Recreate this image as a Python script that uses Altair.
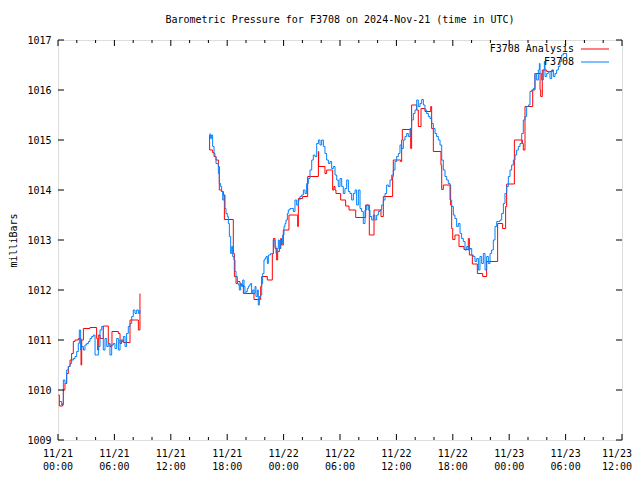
import altair as alt
import pandas as pd

TITLE = "Barometric Pressure for F3708 on 2024-Nov-21 (time in UTC)"
Y_TITLE = "milliBars"
SERIES = ["F3708 Analysis", "F3708"]
COLORS = ["#ff0000", "#0080ff"]
X_MAJOR = list(range(0, 61, 6))          # hours since 2024-11-21 00:00 UTC
X_LABELS = ["11/21\n00:00", "11/21\n06:00", "11/21\n12:00", "11/21\n18:00", "11/22\n00:00",
            "11/22\n06:00", "11/22\n12:00", "11/22\n18:00", "11/23\n00:00", "11/23\n06:00",
            "11/23\n12:00"]
X_MINOR = [h for h in range(0, 61, 2) if h % 6]
Y_MAJOR = list(range(1009, 1018))

# F3708 Analysis (red), segment before the gap
red_seg1 = [(0.04, 1009.9), (0.14, 1009.68), (0.5, 1009.73), (0.57, 1010.0), (0.74, 1010.13),
            (0.92, 1010.33), (1.10, 1010.47), (1.28, 1010.6), (1.45, 1010.73), (1.63, 1010.97),
            (1.81, 1011.0), (2.16, 1011.03), (2.45, 1010.5), (2.52, 1011.0), (2.70, 1011.23),
            (3.40, 1011.25), (4.11, 1011.03), (4.22, 1010.8), (4.33, 1011.1), (4.47, 1011.03),
            (4.82, 1011.28), (5.35, 1010.93), (5.53, 1010.87), (5.74, 1011.17), (6.42, 1011.13),
            (6.60, 1010.93), (6.77, 1011.0), (6.95, 1010.95), (7.66, 1011.4), (8.55, 1011.2),
            (8.72, 1011.93)]
# F3708 Analysis (red), segment after the gap
red_seg2 = [(16.10, 1015.1), (16.13, 1014.8), (16.45, 1014.75), (16.60, 1014.67), (16.81, 1014.6),
            (17.06, 1014.47), (17.16, 1014.0), (17.41, 1013.97), (17.59, 1013.9), (17.70, 1013.41),
            (18.65, 1012.73), (18.76, 1012.27), (18.94, 1012.13), (19.08, 1012.17), (19.36, 1012.1),
            (19.72, 1011.93), (20.85, 1011.81), (21.56, 1012.07), (21.67, 1012.27), (22.27, 1012.2),
            (22.80, 1012.73), (22.91, 1013.03), (23.09, 1012.83), (23.26, 1012.6), (23.37, 1012.77),
            (23.55, 1012.83), (23.69, 1013.03), (23.79, 1012.9), (23.97, 1013.2), (24.57, 1013.5),
            (25.50, 1013.27), (25.57, 1013.83), (26.03, 1013.87), (26.56, 1014.27), (27.70, 1014.77),
            (27.73, 1014.47), (28.40, 1014.33), (28.58, 1014.4), (29.22, 1014.0), (29.36, 1014.07),
            (29.47, 1014.0), (29.57, 1013.93), (30.07, 1013.8), (30.60, 1013.68), (30.96, 1013.6),
            (31.67, 1013.45), (32.73, 1013.7), (33.12, 1013.1), (33.62, 1013.6), (34.36, 1013.47),
            (34.61, 1013.87), (35.60, 1014.27), (35.67, 1014.6), (36.45, 1014.57), (36.56, 1015.0),
            (36.63, 1015.21), (37.52, 1014.83), (37.62, 1015.7), (38.16, 1015.6), (38.33, 1015.27),
            (38.62, 1015.63), (39.04, 1015.57), (39.65, 1015.67), (39.75, 1015.23), (39.93, 1014.77),
            (40.74, 1014.5), (40.82, 1014.01), (40.99, 1014.1), (41.77, 1013.7), (41.88, 1013.23),
            (41.99, 1013.01), (42.23, 1013.1), (42.66, 1012.87), (43.19, 1012.81), (43.65, 1013.03),
            (43.76, 1012.7), (44.08, 1012.52), (44.61, 1012.33), (45.18, 1012.27), (45.60, 1012.57),
            (46.77, 1013.33), (47.30, 1013.23), (47.62, 1013.67), (47.73, 1014.12), (48.55, 1015.0),
            (49.40, 1014.93), (49.50, 1014.8), (49.68, 1015.67), (50.50, 1016.0), (50.74, 1016.33),
            (51.28, 1016.0), (51.35, 1015.87), (51.52, 1016.4), (51.99, 1016.37), (52.62, 1016.4),
            (52.70, 1016.4)]

# F3708 observations (blue), segment before the gap
blue_seg1 = [(0.14, 1009.77), (0.39, 1009.7), (0.57, 1010.2), (0.74, 1010.13), (0.92, 1010.4),
             (1.10, 1010.47), (1.28, 1010.53), (1.45, 1010.6), (1.63, 1010.63), (1.81, 1010.67),
             (1.99, 1010.77), (2.16, 1010.93), (2.27, 1011.2), (2.41, 1010.8), (2.52, 1010.87),
             (2.70, 1010.8), (2.87, 1010.9), (3.05, 1010.93), (3.23, 1010.97), (3.40, 1011.03),
             (3.58, 1011.07), (3.76, 1011.1), (3.94, 1010.7), (4.11, 1010.7), (4.29, 1010.87),
             (4.47, 1011.2), (4.65, 1011.27), (4.82, 1010.8), (5.00, 1011.03), (5.18, 1010.87),
             (5.35, 1010.93), (5.53, 1010.7), (5.71, 1010.9), (5.89, 1010.93), (6.06, 1010.83),
             (6.24, 1011.03), (6.42, 1010.8), (6.60, 1011.0), (6.77, 1010.97), (6.95, 1011.07),
             (7.13, 1010.87), (7.30, 1011.13), (7.48, 1011.27), (7.66, 1011.33), (7.84, 1011.47),
             (8.01, 1011.6), (8.19, 1011.53), (8.37, 1011.6), (8.55, 1011.53), (8.72, 1011.6)]
# F3708 observations (blue), segment after the gap
blue_seg2 = [(16.10, 1015.12), (16.24, 1015.03), (16.35, 1015.1), (16.45, 1014.87), (16.60, 1014.73),
             (16.70, 1014.67), (16.81, 1014.53), (16.95, 1014.53), (17.06, 1014.33), (17.16, 1014.13),
             (17.30, 1014.07), (17.41, 1013.97), (17.52, 1013.8), (17.66, 1013.9), (17.77, 1013.63),
             (17.87, 1013.53), (18.01, 1013.47), (18.12, 1013.33), (18.23, 1013.07), (18.37, 1012.73),
             (18.48, 1012.87), (18.58, 1012.67), (18.72, 1012.6), (18.83, 1012.37), (18.94, 1012.27),
             (19.08, 1012.13), (19.18, 1012.1), (19.29, 1012.0), (19.43, 1012.13), (19.54, 1012.07),
             (19.65, 1012.2), (19.79, 1012.07), (19.89, 1011.93), (20.00, 1011.97), (20.14, 1012.03),
             (20.25, 1012.07), (20.35, 1012.1), (20.50, 1012.13), (20.60, 1011.93), (20.71, 1012.0),
             (20.85, 1011.93), (20.96, 1012.07), (21.06, 1011.87), (21.21, 1012.0), (21.31, 1011.7),
             (21.42, 1011.87), (21.56, 1011.9), (21.67, 1012.13), (21.77, 1012.33), (21.91, 1012.6),
             (22.02, 1012.63), (22.13, 1012.67), (22.27, 1012.53), (22.38, 1012.7), (22.48, 1012.7),
             (22.62, 1012.73), (22.73, 1012.73), (22.91, 1013.0), (23.09, 1012.87), (23.19, 1012.73),
             (23.33, 1012.83), (23.44, 1013.0), (23.55, 1012.83), (23.69, 1013.0), (23.79, 1012.93),
             (23.90, 1013.1), (24.04, 1013.27), (24.15, 1013.33), (24.26, 1013.4), (24.40, 1013.53),
             (24.50, 1013.6), (24.68, 1013.63), (24.86, 1013.63), (25.04, 1013.57), (25.21, 1013.8),
             (25.39, 1013.7), (25.57, 1013.8), (25.74, 1013.87), (25.92, 1013.9), (26.10, 1014.0),
             (26.28, 1013.93), (26.45, 1014.13), (26.63, 1014.23), (26.81, 1014.4), (26.99, 1014.6),
             (27.16, 1014.7), (27.34, 1014.67), (27.52, 1014.93), (27.70, 1015.0), (27.87, 1014.9),
             (28.05, 1015.0), (28.23, 1014.87), (28.40, 1014.73), (28.58, 1014.6), (28.76, 1014.53),
             (28.94, 1014.57), (29.11, 1014.43), (29.29, 1014.47), (29.47, 1014.3), (29.65, 1014.2),
             (29.82, 1014.07), (30.00, 1014.23), (30.18, 1014.07), (30.35, 1013.93), (30.53, 1014.03),
             (30.71, 1014.2), (30.89, 1013.97), (31.06, 1013.93), (31.24, 1013.8), (31.42, 1013.93),
             (31.60, 1014.0), (31.77, 1013.7), (31.95, 1014.0), (32.13, 1013.63), (32.30, 1013.57),
             (32.48, 1013.33), (32.66, 1013.6), (32.84, 1013.7), (33.01, 1013.6), (33.19, 1013.47),
             (33.37, 1013.4), (33.55, 1013.5), (33.72, 1013.4), (33.90, 1013.5), (34.08, 1013.57),
             (34.26, 1013.6), (34.43, 1013.7), (34.61, 1013.8), (34.79, 1013.93), (34.96, 1014.1),
             (35.14, 1014.07), (35.32, 1014.2), (35.50, 1014.3), (35.67, 1014.4), (35.85, 1014.57),
             (36.03, 1014.67), (36.21, 1014.73), (36.38, 1014.9), (36.56, 1014.83), (36.74, 1015.0),
             (36.91, 1015.07), (37.09, 1015.13), (37.27, 1015.07), (37.45, 1015.23), (37.62, 1015.4),
             (37.80, 1015.53), (37.98, 1015.6), (38.16, 1015.8), (38.33, 1015.67), (38.51, 1015.73),
             (38.69, 1015.81), (38.87, 1015.7), (39.04, 1015.6), (39.22, 1015.53), (39.40, 1015.47),
             (39.57, 1015.43), (39.75, 1015.33), (39.93, 1015.23), (40.11, 1015.13), (40.28, 1015.07),
             (40.46, 1015.0), (40.64, 1014.9), (40.82, 1014.6), (40.99, 1014.4), (41.17, 1014.27),
             (41.35, 1014.2), (41.52, 1014.13), (41.70, 1013.8), (41.88, 1013.67), (42.06, 1013.5),
             (42.23, 1013.43), (42.41, 1013.27), (42.59, 1013.33), (42.77, 1013.13), (42.94, 1013.03),
             (43.12, 1012.97), (43.30, 1012.8), (43.48, 1012.87), (43.65, 1012.8), (43.83, 1012.83),
             (44.01, 1012.7), (44.18, 1012.67), (44.36, 1012.57), (44.54, 1012.63), (44.72, 1012.4),
             (44.89, 1012.67), (45.07, 1012.53), (45.25, 1012.73), (45.43, 1012.4), (45.60, 1012.67),
             (45.78, 1012.53), (45.96, 1012.73), (46.13, 1012.8), (46.31, 1013.0), (46.49, 1013.27),
             (46.67, 1013.37), (46.84, 1013.37), (47.02, 1013.4), (47.20, 1013.53), (47.38, 1013.73),
             (47.55, 1013.93), (47.73, 1014.07), (47.91, 1014.27), (48.09, 1014.4), (48.26, 1014.5),
             (48.44, 1014.6), (48.62, 1014.7), (48.79, 1014.8), (48.97, 1014.87), (49.15, 1014.93),
             (49.33, 1015.13), (49.50, 1015.4), (49.68, 1015.47), (49.86, 1015.67), (50.04, 1015.7),
             (50.21, 1015.97), (50.39, 1016.0), (50.57, 1016.03), (50.74, 1016.33), (50.92, 1016.2),
             (51.10, 1016.4), (51.21, 1016.53), (51.28, 1016.33), (51.45, 1016.2), (51.63, 1016.4),
             (51.74, 1016.57), (51.81, 1016.27), (51.99, 1016.33), (52.16, 1016.37), (52.34, 1016.23),
             (52.52, 1016.4), (52.70, 1016.27), (52.87, 1016.33), (53.05, 1016.4), (53.23, 1016.47),
             (53.40, 1016.57), (53.58, 1016.7), (53.76, 1016.73), (54.11, 1016.63)]


def frame(segments):
    rows = []
    for i, seg in enumerate(segments):
        for t, v in seg:
            rows.append({"seg": i, "t": t, "v": v})
    return pd.DataFrame(rows)


red_df = frame([red_seg1, red_seg2])
blue_df = frame([blue_seg1, blue_seg2])

FONT = "DejaVu Sans Mono"
W, H = 564, 400
x_scale = alt.Scale(domain=[0, 60], nice=False, zero=False)
y_scale = alt.Scale(domain=[1009, 1017], nice=False, zero=False)

y_axis = alt.Axis(
    values=Y_MAJOR, ticks=False, tickSize=0, domain=False, grid=False, title=Y_TITLE,
    labelPadding=7, labelFont=FONT, labelFontSize=10, labelColor="black", labelFlush=False,
    labelOverlap=False, labelBaseline="middle", format="d",
    titleFont=FONT, titleFontSize=10, titleFontWeight="normal", titleColor="black",
    titleX=-45, titleY=200, titleAngle=-90, titleBaseline="middle", titleAlign="center",
)

red = alt.Chart(red_df).mark_line(interpolate="step-after", strokeWidth=1, color=COLORS[0]).encode(
    x=alt.X("t:Q", scale=x_scale, axis=None),
    y=alt.Y("v:Q", scale=y_scale, axis=y_axis),
    detail="seg:N",
)
blue = alt.Chart(blue_df).mark_line(interpolate="step-after", strokeWidth=1, color=COLORS[1]).encode(
    x=alt.X("t:Q", scale=x_scale, axis=None),
    y=alt.Y("v:Q", scale=y_scale, axis=None),
    detail="seg:N",
)

xmaj = pd.DataFrame({"t": X_MAJOR, "label": X_LABELS})
xmin = pd.DataFrame({"t": X_MINOR})
ymaj = pd.DataFrame({"v": Y_MAJOR})


def x_label_layer(df, dx):
    return alt.Chart(df).mark_text(align="center", baseline="top", font=FONT, fontSize=10,
                                   lineBreak="\n", lineHeight=13, color="black", dx=dx).encode(
        x=alt.X("t:Q", scale=x_scale, axis=None), y=alt.value(H + 9), text="label:N")


# last label nudged left so it stays inside the 640px page
x_labels = x_label_layer(xmaj.iloc[:-1], 0) + x_label_layer(xmaj.iloc[-1:], -5)


def xticks(df, size):
    base = alt.Chart(df).mark_rule(color="black", strokeWidth=1)
    xe = alt.X("t:Q", scale=x_scale, axis=None)
    bottom = base.encode(x=xe, y=alt.value(H), y2=alt.value(H - size))
    top = base.encode(x=xe, y=alt.value(0), y2=alt.value(size))
    return bottom + top


def yticks(df, size):
    base = alt.Chart(df).mark_rule(color="black", strokeWidth=1)
    ye = alt.Y("v:Q", scale=y_scale, axis=None)
    left = base.encode(y=ye, x=alt.value(0), x2=alt.value(size))
    right = base.encode(y=ye, x=alt.value(W), x2=alt.value(W - size))
    return left + right


leg_df = pd.DataFrame({"name": SERIES, "color": COLORS, "row": [0, 1]})
leg_y = alt.Y("row:Q", scale=alt.Scale(domain=[0, 1], range=[9, 22]), axis=None)
leg_text = alt.Chart(leg_df).mark_text(align="right", baseline="middle", font=FONT, fontSize=10,
                                       color="black").encode(
    x=alt.value(516), y=leg_y, text="name:N")
leg_line = alt.Chart(leg_df).mark_rule(strokeWidth=1).encode(
    x=alt.value(523), x2=alt.value(551), y=leg_y,
    color=alt.Color("color:N", scale=None))

chart = alt.layer(
    red, blue,
    xticks(xmaj, 6), xticks(xmin, 3), yticks(ymaj, 6),
    x_labels, leg_text, leg_line,
).resolve_scale(y="independent").properties(
    width=W, height=H,
    title=alt.TitleParams(TITLE, font=FONT, fontSize=10, fontWeight="normal", color="black",
                          anchor="middle", offset=10),
    autosize=alt.AutoSizeParams(type="none"),
    padding={"left": 50, "top": 32, "right": 10, "bottom": 32},
).configure_view(stroke="black", strokeWidth=1).configure(background="white")

chart.save("out.html", embed_options={"renderer": "svg", "actions": False})
